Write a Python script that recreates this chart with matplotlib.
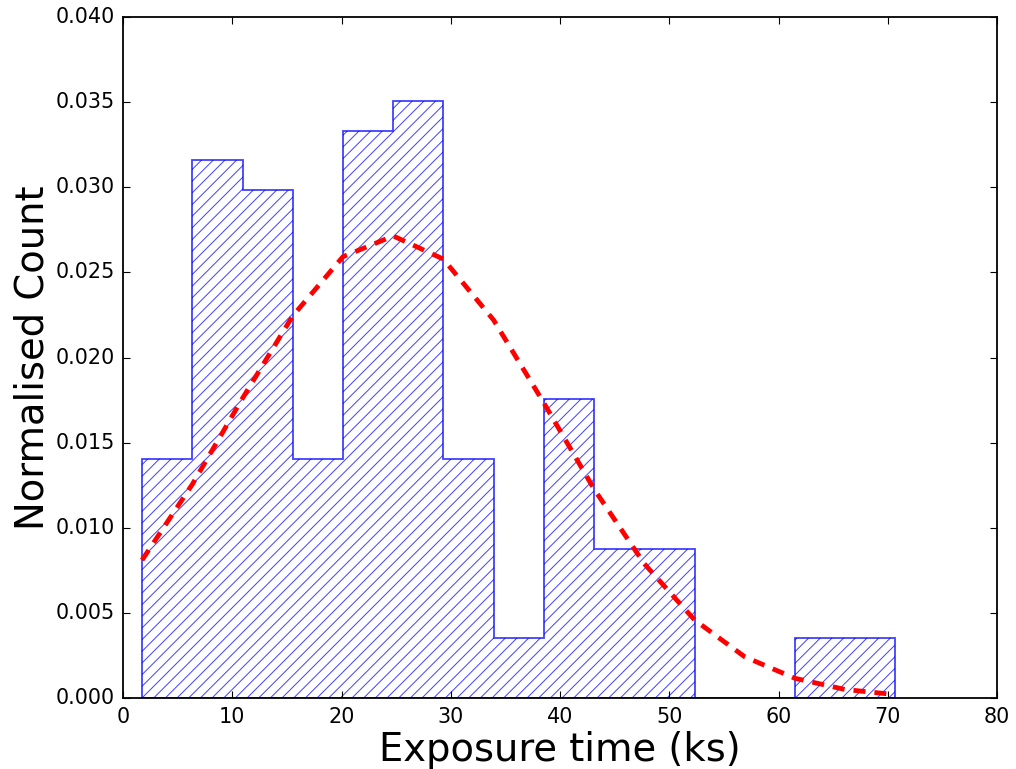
import matplotlib
matplotlib.use("Agg")
import matplotlib.pyplot as plt

plt.style.use("classic")
plt.rcParams["font.family"] = ["DejaVu Sans"]
plt.rcParams["lines.scale_dashes"] = False
plt.rcParams["hatch.linewidth"] = 1.0

# Exposure-time histogram (normalised) and the fitted normal curve sampled at the bin edges
bin_edges = [1.74, 6.34, 10.94, 15.53, 20.13, 24.73, 29.32, 33.92,
             38.52, 43.11, 47.71, 52.31, 56.91, 61.50, 66.10, 70.70]
norm_counts = [0.01403, 0.03158, 0.02982, 0.01403, 0.03333, 0.03509, 0.01403,
               0.00351, 0.01754, 0.00877, 0.00877, 0.0, 0.0, 0.00351, 0.00351]
fit_curve = [0.00810, 0.01255, 0.01761, 0.02244, 0.02592, 0.02714, 0.02578,
             0.02220, 0.01733, 0.01228, 0.00789, 0.00459, 0.00242, 0.00116,
             0.00050, 0.00020]

x_ticks = [0, 10, 20, 30, 40, 50, 60, 70, 80]
y_ticks = [0.000, 0.005, 0.010, 0.015, 0.020, 0.025, 0.030, 0.035, 0.040]

DPI = 70
PT = 72.0 / DPI  # points per pixel


def px(v):
    return v * PT


fig = plt.figure(figsize=(1016 / DPI, 769 / DPI), dpi=DPI, facecolor="white")
ax = fig.add_axes([0.1211, 0.0923, 0.8602, 0.8856])
ax.set_facecolor("white")

ax.hist(bin_edges[:-1], bins=bin_edges, weights=norm_counts,
        histtype="stepfilled", fill=False, hatch="//", edgecolor="b",
        linewidth=px(1.8), alpha=0.75)
ax.plot(bin_edges, fit_curve, color="r",
        linestyle=(0, (px(12), px(9))), linewidth=px(4.8))

ax.set_xlim(0, 80)
ax.set_ylim(0, 0.040)
ax.set_xticks(x_ticks)
ax.set_yticks(y_ticks)
ax.set_xticklabels([str(v) for v in x_ticks])
ax.set_yticklabels([f"{v:.3f}" for v in y_ticks])
ax.tick_params(axis="both", which="major", direction="in", length=px(7),
               width=px(1.1), labelsize=px(20.8), top=True, right=True)
ax.tick_params(axis="x", pad=px(9))
ax.tick_params(axis="y", pad=px(8))
for sp in ax.spines.values():
    sp.set_linewidth(px(1.8))

ax.set_xlabel("Exposure time (ks)", fontsize=px(38.5), labelpad=px(4))
ax.set_ylabel("Normalised Count", fontsize=px(38.5), labelpad=px(4))

fig.savefig("out.png", dpi=DPI, facecolor="white")
